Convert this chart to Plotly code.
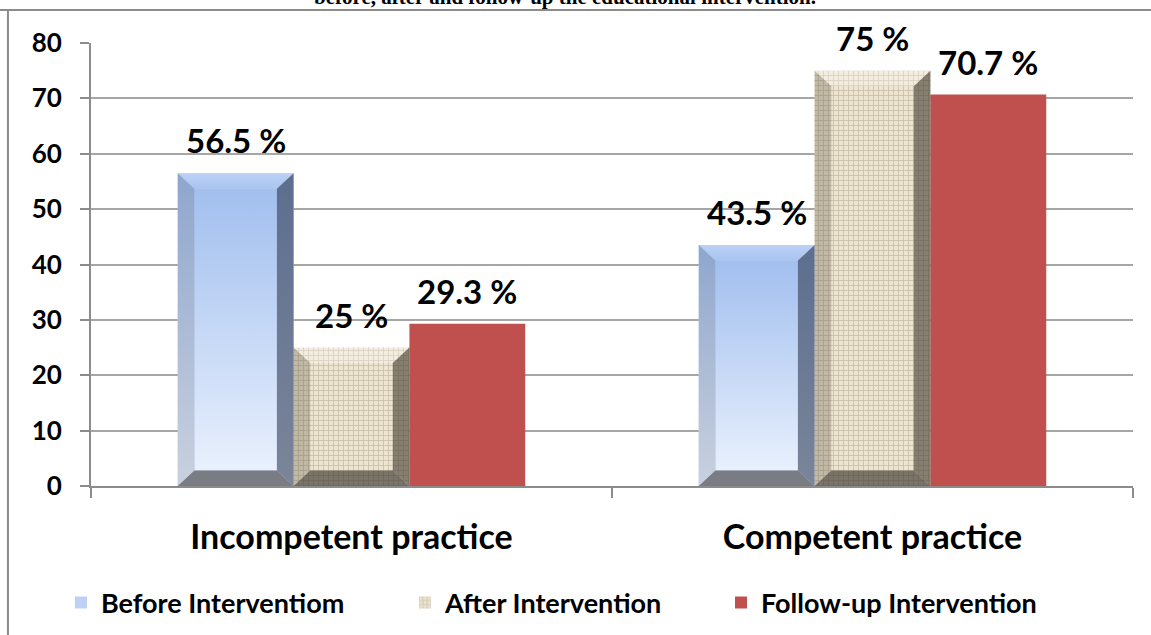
import plotly.graph_objects as go

categories = ["Incompetent practice", "Competent practice"]
series_names = ["Before Interventiom", "After Intervention", "Follow-up Intervention"]
before_vals = [56.5, 43.5]
after_vals = [25, 75]
follow_vals = [29.3, 70.7]
y_ticks = [0, 10, 20, 30, 40, 50, 60, 70, 80]
title_text = "before, after and follow-up the educational intervention."

FONT = "Lato"
GRID = "#a6a6a6"
AXC = "#8c8c8c"

BARGAP = 0.333
n_series = 3
w = (1 - BARGAP) / n_series
BX = 0.032   # bevel width in x-units
BY = 2.8     # bevel height in y-units

fig = go.Figure()

series_vals = [before_vals, after_vals, follow_vals]

# main bars
fig.add_trace(go.Bar(x=categories, y=before_vals, name=series_names[0],
                     marker=dict(color="#bcd1f3", line=dict(width=0)),
                     legend="legend"))
fig.add_trace(go.Bar(x=categories, y=after_vals, name=series_names[1],
                     marker=dict(color="#efe7d4", line=dict(width=0),
                                 pattern=dict(shape="+", fgcolor="#a0967f", bgcolor="#eee5d1",
                                              size=5, solidity=0.3)),
                     legend="legend2"))
fig.add_trace(go.Bar(x=categories, y=follow_vals, name=series_names[2],
                     marker=dict(color="#c0504d", line=dict(width=0)),
                     legend="legend3"))


def poly(xs, ys, color=None, grad=None):
    kw = dict(x=xs + [xs[0]], y=ys + [ys[0]], xaxis="x2", yaxis="y", mode="lines",
              line=dict(width=0), fill="toself", hoverinfo="skip", showlegend=False)
    if grad is not None:
        kw["fillgradient"] = dict(type="vertical", colorscale=grad)
        kw["fillcolor"] = grad[-1][1]
    else:
        kw["fillcolor"] = color
    fig.add_trace(go.Scatter(**kw))


styles = {
    0: dict(face=[[0, "#e8f0fd"], [1, "#a2bfee"]],
            top=[[0, "#a9c4f0"], [1, "#bcd2f6"]],
            left=[[0, "#c9d1df"], [1, "#8ea6cd"]],
            right=[[0, "#7b8599"], [1, "#5c6e8f"]],
            bottom="#7a7c83"),
    1: dict(face=None,
            top="rgba(255,255,255,0.3)",
            left="rgba(110,102,86,0.35)",
            right="rgba(70,64,52,0.62)",
            bottom="rgba(60,56,50,0.66)"),
}

for k in (0, 1):
    st = styles[k]
    for ci, v in enumerate(series_vals[k]):
        xc = ci + (k - 1) * w
        L, R = xc - w / 2, xc + w / 2
        if st["face"] is not None:
            poly([L + BX, R - BX, R - BX, L + BX], [BY, BY, v - BY, v - BY], grad=st["face"])

        def draw(pts_x, pts_y, c):
            if isinstance(c, list):
                poly(pts_x, pts_y, grad=c)
            else:
                poly(pts_x, pts_y, color=c)
        draw([L, R, R - BX, L + BX], [v, v, v - BY, v - BY], st["top"])
        draw([L, L, L + BX, L + BX], [0, v, v - BY, BY], st["left"])
        draw([R, R, R - BX, R - BX], [0, v, v - BY, BY], st["right"])
        draw([L, R, R - BX, L + BX], [0, 0, BY, BY], st["bottom"])

# data labels
for k, vals in enumerate(series_vals):
    for ci, v in enumerate(vals):
        xc = ci + (k - 1) * w
        fig.add_annotation(x=xc, y=v, xref="x2", yref="y", text=f"{v:g} %",
                           showarrow=False, yanchor="bottom", yshift=11,
                           font=dict(family=FONT, size=33, color="black", weight="bold"))

# cropped title (the reference shows it cut by the top edge)
fig.add_annotation(x=0.455, y=1.072, xref="paper", yref="paper", text=title_text,
                   showarrow=False, yanchor="bottom", xanchor="center",
                   font=dict(family="Liberation Serif", size=21, color="black", weight="bold"))

# frame lines
fig.add_shape(type="line", xref="paper", yref="paper", x0=-0.0873, x1=1.02, y0=1.0745, y1=1.0745,
              line=dict(color=AXC, width=2))
fig.add_shape(type="line", xref="paper", yref="paper", x0=-0.0797, x1=-0.0797, y0=1.0745, y1=-0.34,
              line=dict(color=AXC, width=2))

leg_common = dict(orientation="h", yanchor="middle", y=-0.264, xanchor="left",
                  font=dict(family=FONT, size=27, color="black", weight="bold"),
                  bgcolor="rgba(0,0,0,0)")

fig.update_layout(
    width=1151, height=635,
    margin=dict(l=91, r=18, t=43, b=149, autoexpand=False),
    paper_bgcolor="white", plot_bgcolor="white",
    barmode="group", bargap=BARGAP, bargroupgap=0,
    xaxis=dict(type="category", categoryorder="array", categoryarray=categories,
               range=[-0.5, 1.5], tickson="boundaries", ticks="outside", ticklen=10,
               tickwidth=2, tickcolor=AXC, showline=True, linecolor=AXC, linewidth=2,
               showgrid=False, ticklabelstandoff=20, automargin=False,
               tickfont=dict(family=FONT, size=34, color="black", weight="bold")),
    xaxis2=dict(overlaying="x", range=[-0.5, 1.5], visible=False, anchor="y"),
    yaxis=dict(range=[0, 80], tickvals=y_ticks, ticks="outside", ticklen=9, tickwidth=2,
               tickcolor=AXC, showline=True, linecolor=AXC, linewidth=2,
               showgrid=True, gridcolor=GRID, gridwidth=2, zeroline=False,
               ticklabelstandoff=13, automargin=False,
               tickfont=dict(family=FONT, size=26, color="black", weight="bold")),
    legend=dict(x=-0.0288, **leg_common),
    legend2=dict(x=0.3013, **leg_common),
    legend3=dict(x=0.6046, **leg_common),
    showlegend=True,
)

fig.write_html("out.html")
